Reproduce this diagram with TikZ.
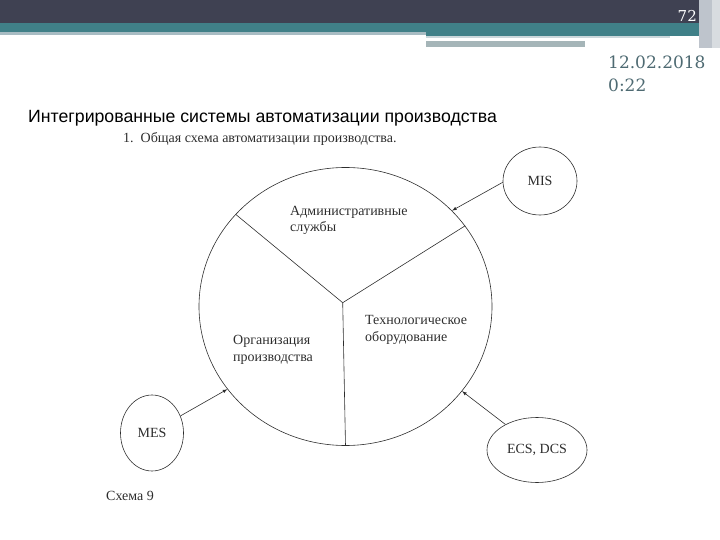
\documentclass[tikz,border=0pt]{standalone}
\usepackage{fontspec}
\setmainfont{Liberation Serif}
\newfontfamily\titlefont{Liberation Sans}
\newfontfamily\datefont{DejaVu Serif}
\definecolor{slidedark}{RGB}{63,65,82}
\definecolor{slideteal}{RGB}{64,128,136}
\definecolor{slidelight}{RGB}{168,188,195}
\definecolor{slidegray}{RGB}{165,181,184}
\definecolor{slideside}{RGB}{190,196,204}
\definecolor{datecolor}{RGB}{78,106,114}
\definecolor{scangray}{RGB}{45,45,45}
\usetikzlibrary{shapes.geometric,arrows}

\begin{document}
\begin{tikzpicture}[x=1pt,y=-1pt,
    scanline/.style={draw=scangray,line width=0.6pt},
    flow/.style={scanline,-latex},
    scantext/.style={font=\fontsize{14}{17}\selectfont,text=scangray,align=left,inner sep=0pt,anchor=base west},
    sysnode/.style={ellipse,draw=scangray,line width=0.6pt,inner sep=0pt,font=\fontsize{14}{16}\selectfont,text=scangray}]
    \useasboundingbox (0,0) rectangle (720,540);
    % slide header
    \fill[slidedark] (0,0) rectangle (720,23);
    \fill[slideteal] (0,23) rectangle (720,32);
    \fill[slidelight] (0,32) rectangle (426,35);
    \fill[slideteal] (426,32) rectangle (700,36);
    \fill[slidelight!60] (426,36) rectangle (670,38);
    \fill[white] (426,38) rectangle (670,41);
    \fill[slidegray] (426,41) rectangle (585,47);
    \fill[slideside] (699,0) rectangle (712,48);
    \fill[slideside!60] (712,0) rectangle (720,48);
    \node[font=\datefont\fontsize{15}{15}\selectfont,text=white,anchor=base east,inner sep=0pt] (pagenum) at (697,21.5) {72};
    \node[font=\datefont\fontsize{17}{17}\selectfont,text=datecolor,anchor=base west,inner sep=0pt] (date) at (608,68.3) {12.02.2018};
    \node[font=\datefont\fontsize{17}{17}\selectfont,text=datecolor,anchor=base west,inner sep=0pt] (time) at (608,91.7) {0:22};
    % titles
    \node[font=\titlefont\fontsize{17.7}{19}\selectfont,anchor=base west,inner sep=0pt] (title) at (28,122.3) {Интегрированные системы автоматизации производства};
    \node[scantext] (caption) at (123,142.3) {1.\enspace Общая схема автоматизации производства.};
    % main circle and its sectors
    \node[ellipse,draw=scangray,line width=0.6pt,minimum width=293pt,minimum height=278pt,inner sep=0pt] (plant) at (345.5,306.5) {};
    \coordinate (hub) at (342.7,302.7);
    \draw[scanline] (hub) -- (plant.140);
    \draw[scanline] (hub) -- (plant.34.5);
    \draw[scanline] (hub) -- (plant.270);
    \node[scantext] (admin) at (290,232) {Административные\\службы};
    \node[scantext] (equip) at (365,341) {Технологическое\\оборудование};
    \node[scantext] (organ) at (233,361) {Организация\\производства};
    % outer systems
    \node[sysnode,minimum width=74pt,minimum height=68pt] (mis) at (540,181) {MIS};
    \node[sysnode,minimum width=63pt,minimum height=76pt] (mes) at (152,433) {MES};
    \node[sysnode,minimum width=100pt,minimum height=65pt] (ecs) at (537,450) {ECS, DCS};
    \draw[flow] (mis.182) -- (plant.42.4);
    \draw[flow] (mes.31) -- (plant.215.4);
    \draw[flow] (ecs.141) -- (plant.324.3);
    \node[scantext] (scheme) at (106,500) {Схема 9};
\end{tikzpicture}
\end{document}
